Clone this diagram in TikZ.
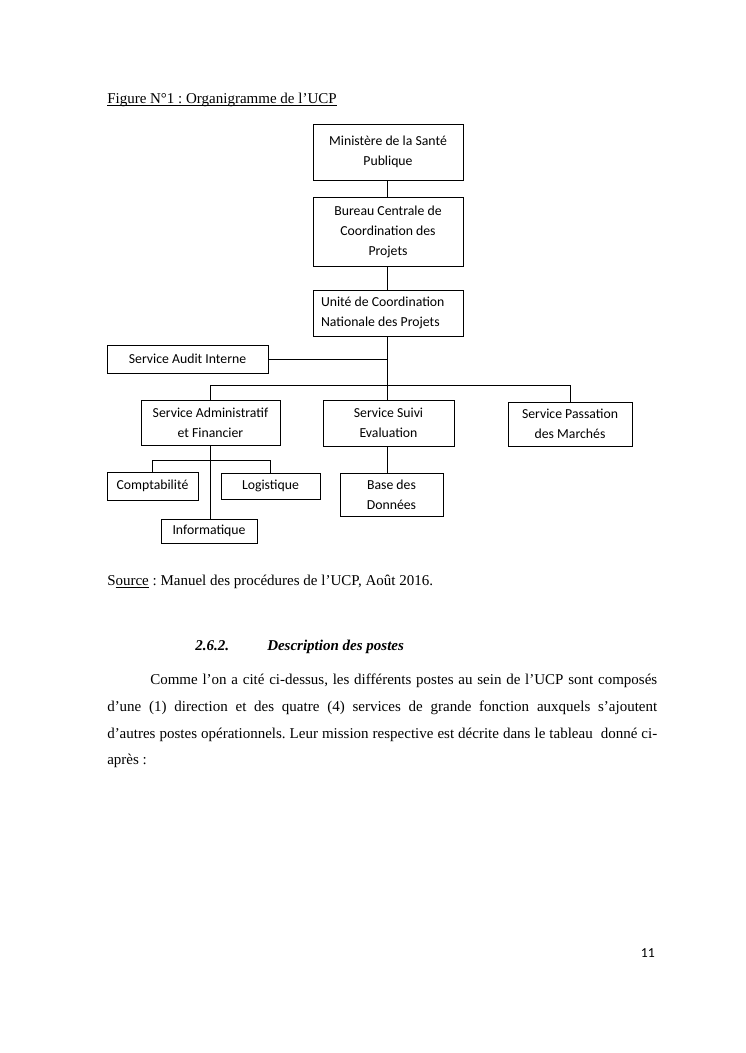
\documentclass[tikz,border=0pt]{standalone}
\usepackage{fontspec}
\setmainfont{Liberation Serif}
\newfontfamily\boxfont{Carlito}
\frenchspacing
\newcommand\myul[1]{\setbox0\hbox{#1}\rlap{\rule[-1.8pt]{\wd0}{0.6pt}}\box0\relax}
\tikzset{
  orgbox/.style={draw, line width=0.8pt, font=\boxfont\fontsize{11pt}{16pt}\selectfont, align=center, inner sep=0pt},
  link/.style={line width=0.8pt},
  body/.style={font=\fontsize{12pt}{14pt}\selectfont, inner sep=0pt, anchor=base west},
}
\begin{document}
\begin{tikzpicture}[x=0.8pt,y=-0.8pt]
\useasboundingbox (0,0) rectangle (745,1053);
\fill[white] (0,0) rectangle (745,1053);

% title
\node[body] (title) at (107,103) {\myul{Figure N°1 : Organigramme de l’UCP}};

% boxes
\node[orgbox, minimum width=150*0.8pt, minimum height=56*0.8pt] (min) at (388,152) {Ministère de la Santé\\Publique};
\node[orgbox, minimum width=150*0.8pt, minimum height=69*0.8pt] (bur) at (388,231.5) {Bureau Centrale de\\Coordination des\\Projets};
\node[orgbox, minimum width=150*0.8pt, minimum height=46*0.8pt, align=flush left, text width=134*0.8pt, inner xsep=8*0.8pt] (ucp) at (388,313) {Unité de Coordination\\Nationale des Projets};
\node[orgbox, minimum width=161*0.8pt, minimum height=28*0.8pt] (audit) at (187.5,359) {Service Audit Interne};
\node[orgbox, minimum width=139*0.8pt, minimum height=45*0.8pt] (adm) at (210.5,422.5) {Service Administratif\\et Financier};
\node[orgbox, minimum width=131*0.8pt, minimum height=46*0.8pt] (suivi) at (388.5,423) {Service Suivi\\Evaluation};
\node[orgbox, minimum width=124*0.8pt, minimum height=44*0.8pt] (pass) at (570,424) {Service Passation\\des Marchés};
\node[orgbox, minimum width=91*0.8pt, minimum height=28*0.8pt] (compta) at (152.5,486) {Comptabilité};
\node[orgbox, minimum width=99*0.8pt, minimum height=26*0.8pt] (logi) at (270.5,486) {Logistique};
\node[orgbox, minimum width=96*0.8pt, minimum height=24*0.8pt] (info) at (209,531) {Informatique};
\node[orgbox, minimum width=103*0.8pt, minimum height=43*0.8pt] (base) at (391.5,494.5) {Base des\\Données};

% connectors
\coordinate (sp) at (387,0);
\coordinate (bar) at (0,385);
\coordinate (sb) at (0,460);
\draw[link] (min.south -| sp) -- (bur.north -| sp);
\draw[link] (bur.south -| sp) -- (ucp.north -| sp);
\draw[link] (ucp.south -| sp) -- (suivi.north -| sp);
\draw[link] (audit.east) -- (audit.east -| sp);
\draw[link] (adm.north) -- (adm.north |- bar) -- (pass.north |- bar) -- (pass.north);
\draw[link] (adm.south) -- (adm.south |- info.north);
\draw[link] (compta.north) -- (compta.north |- sb) -- (logi.north |- sb) -- (logi.north);
\draw[link] (suivi.south -| sp) -- (base.north -| sp);

% source
\node[body] (src) at (107,585) {S\myul{ource} : Manuel des procédures de l’UCP, Août 2016.};

% heading
\node[body] (secnum) at (195,650) {\textbf{\textit{2.6.2.}}};
\node[body] (sectitle) at (267,650) {\textbf{\textit{Description des postes}}};

% paragraph
\node[body] (p1) at (150,684) {\makebox[405.6pt][s]{Comme l’on a cité ci-dessus, les différents postes au sein de l’UCP sont composés}};
\node[body] (p2) at (107,711) {\makebox[440pt][s]{d’une (1) direction et des quatre (4) services de grande fonction auxquels s’ajoutent}};
\node[body] (p3) at (107,738) {\makebox[440pt][s]{d’autres postes opérationnels. Leur mission respective est décrite dans le tableau\ \ donné ci-}};
\node[body] (p4) at (107,764) {après :};

% page number
\node[font=\boxfont\fontsize{11pt}{13pt}\selectfont, inner sep=0pt, anchor=base east] (pg) at (655,957) {11};
\end{tikzpicture}
\end{document}
